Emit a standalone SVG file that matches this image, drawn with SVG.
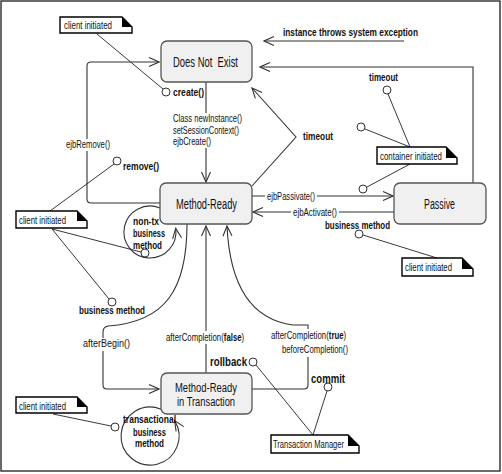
<svg xmlns="http://www.w3.org/2000/svg" width="502" height="474" viewBox="0 0 502 474">
<style>
.frame{fill:#fff;stroke:#3a3a3a;stroke-width:1.5}
.state{fill:#f0f0f0;stroke:#555;stroke-width:1.3}
.t{font-family:"Liberation Sans Narrow","Liberation Sans",Arial,sans-serif;fill:#111}
.st{font-size:14px}
.st2{font-size:12.5px}
.lbl{font-size:10.5px}
.b{font-weight:bold}
.big{font-size:13px}
.ln{fill:none;stroke:#333;stroke-width:1.1}
.an{fill:none;stroke:#222;stroke-width:0.9}
.arr{marker-end:url(#open)}
.note{fill:#fff;stroke:#000;stroke-width:1.4}
.ear{fill:#000}
.dot{fill:#fff;stroke:#333;stroke-width:1}
.bg{fill:#fff}
</style>
<defs>
<marker id="open" viewBox="-12 -6 13 12" refX="0" refY="0" markerWidth="13" markerHeight="12" markerUnits="userSpaceOnUse" orient="auto">
<path d="M-10,-4.5 L0,0 L-10,4.5" fill="none" stroke="#333" stroke-width="1.1"/>
</marker>
</defs>
<rect class="frame" x="1" y="1" width="499" height="470"/>

<g id="connectors">
<path class="ln arr" d="M206,82 V182"/>
<path class="ln arr" d="M160,203 H91 Q87,203 87,199 V66 Q87,62 91,62 H159"/>
<path class="ln arr" d="M404,41 H264"/>
<path class="ln arr" d="M473,183 V67 H260"/>
<path class="ln arr" d="M252,186 L296,137 L252,88"/>
<path class="ln arr" d="M252,196 H393"/>
<path class="ln arr" d="M394,212 H253"/>
<path class="ln arr" d="M160,208 A26,26 0 1 0 175.7,228.4"/>
<path class="ln arr" d="M187,224 C187,290 165,322 108,326 Q103,327 103,332 V385 Q103,389 107,389 H159"/>
<path class="ln arr" d="M206,373 V226"/>
<path class="ln arr" d="M252,389 H304 Q308,389 308,385 V325 H293 C255,320 230,290 227,226"/>
<path class="ln arr" d="M161,409.2 A29,29 0 1 0 174.6,420.6"/>

<path class="an" d="M97,34 L163,89"/>
<path class="an" d="M50,211 L114,164"/>
<path class="an" d="M52,229 L141,252"/>
<path class="an" d="M52,229 L109,299"/>
<path class="an" d="M53,414 L111,426"/>
<path class="an" d="M410,147 L388,94"/>
<path class="an" d="M410,147 L365,129"/>
<path class="an" d="M410,164 L367,187"/>
<path class="an" d="M437,258 L363,235"/>
<path class="an" d="M313,435 L256,365"/>
<path class="an" d="M313,435 L327,391"/>

<circle class="dot" cx="166" cy="92" r="4"/>
<circle class="dot" cx="117" cy="161" r="4"/>
<circle class="dot" cx="145" cy="253" r="4"/>
<circle class="dot" cx="112" cy="302" r="4"/>
<circle class="dot" cx="115" cy="427" r="4"/>
<circle class="dot" cx="387" cy="90" r="4"/>
<circle class="dot" cx="361" cy="127" r="4"/>
<circle class="dot" cx="363" cy="189" r="4"/>
<circle class="dot" cx="359" cy="234" r="4"/>
<circle class="dot" cx="253" cy="362" r="4"/>
<circle class="dot" cx="328" cy="387" r="4"/>

<rect class="bg" x="172" y="113" width="72" height="35"/>
<rect class="bg" x="64" y="139" width="48" height="12"/>
<rect class="bg" x="265" y="190" width="52" height="12"/>
<rect class="bg" x="291" y="206" width="48" height="12"/>
<rect class="bg" x="81" y="338" width="51" height="13"/>
<rect class="bg" x="164" y="331" width="84" height="13"/>
<rect class="bg" x="268" y="329" width="81" height="28"/>

<text class="t lbl b" x="173" y="96" textLength="31" lengthAdjust="spacingAndGlyphs">create()</text>
<text class="t lbl" x="173" y="122" textLength="69" lengthAdjust="spacingAndGlyphs">Class newInstance()</text>
<text class="t lbl" x="173" y="133.5" textLength="66" lengthAdjust="spacingAndGlyphs">setSessionContext()</text>
<text class="t lbl" x="173" y="145" textLength="38" lengthAdjust="spacingAndGlyphs">ejbCreate()</text>
<text class="t lbl" x="66" y="148" textLength="44" lengthAdjust="spacingAndGlyphs">ejbRemove()</text>
<text class="t lbl b" x="123" y="170" textLength="36" lengthAdjust="spacingAndGlyphs">remove()</text>
<text class="t b" x="283" y="36" textLength="135" lengthAdjust="spacingAndGlyphs" style="font-size:11px">instance throws system exception</text>
<text class="t lbl b" x="369" y="81" textLength="29" lengthAdjust="spacingAndGlyphs">timeout</text>
<text class="t lbl b" x="303" y="140" textLength="30" lengthAdjust="spacingAndGlyphs">timeout</text>
<text class="t lbl" x="267" y="199.5" textLength="48" lengthAdjust="spacingAndGlyphs">ejbPassivate()</text>
<text class="t lbl" x="293" y="215.5" textLength="44" lengthAdjust="spacingAndGlyphs">ejbActivate()</text>
<text class="t lbl b" x="325" y="229" textLength="65" lengthAdjust="spacingAndGlyphs">business method</text>
<text class="t lbl b" x="133" y="225" textLength="26" lengthAdjust="spacingAndGlyphs">non-tx</text>
<text class="t lbl b" x="133" y="236.5" textLength="32" lengthAdjust="spacingAndGlyphs">business</text>
<text class="t lbl b" x="133" y="248.5" textLength="29" lengthAdjust="spacingAndGlyphs">method</text>
<text class="t lbl b" x="79" y="314" textLength="66" lengthAdjust="spacingAndGlyphs">business method</text>
<text class="t lbl" x="83" y="347" textLength="47" lengthAdjust="spacingAndGlyphs">afterBegin()</text>
<text class="t lbl" transform="translate(166,340.5) scale(0.745,1)" x="0" y="0">afterCompletion(<tspan class="b">false</tspan>)</text>
<text class="t big b" x="210" y="366" textLength="37" lengthAdjust="spacingAndGlyphs">rollback</text>
<text class="t lbl" transform="translate(271,339) scale(0.745,1)" x="0" y="0">afterCompletion(<tspan class="b">true</tspan>)</text>
<text class="t lbl" x="282" y="353" textLength="66" lengthAdjust="spacingAndGlyphs">beforeCompletion()</text>
<text class="t big b" x="311" y="383" textLength="34" lengthAdjust="spacingAndGlyphs">commit</text>
<text class="t lbl b" x="123" y="423" textLength="53" lengthAdjust="spacingAndGlyphs">transactional</text>
<text class="t lbl b" x="133" y="435.5" textLength="33" lengthAdjust="spacingAndGlyphs">business</text>
<text class="t lbl b" x="135" y="446.5" textLength="29" lengthAdjust="spacingAndGlyphs">method</text>
</g>

<g id="node-does-not-exist">
<rect class="state" x="161" y="41" width="91" height="41" rx="6"/>
<text class="t st" x="173" y="67" xml:space="preserve" textLength="65" lengthAdjust="spacingAndGlyphs">Does Not  Exist</text>
</g>
<g id="node-method-ready">
<rect class="state" x="160" y="183" width="92" height="41" rx="6"/>
<text class="t st" x="176" y="209" textLength="61" lengthAdjust="spacingAndGlyphs">Method-Ready</text>
</g>
<g id="node-passive">
<rect class="state" x="394" y="183" width="92" height="41" rx="6"/>
<text class="t st" x="424" y="209" textLength="31" lengthAdjust="spacingAndGlyphs">Passive</text>
</g>
<g id="node-method-ready-tx">
<rect class="state" x="161" y="373" width="91" height="41" rx="6"/>
<text class="t st2" x="175" y="391.5" textLength="62" lengthAdjust="spacingAndGlyphs">Method-Ready</text>
<text class="t st2" x="177" y="405.6" textLength="58" lengthAdjust="spacingAndGlyphs">in Transaction</text>
</g>

<g id="note-client-top">
<path class="note" d="M60,17 H122 L132,27 V33 H60 Z"/>
<path class="ear" d="M122,17 V27 H132 Z"/>
<text class="t lbl" x="64" y="29" textLength="48" lengthAdjust="spacingAndGlyphs">client initiated</text>
</g>
<g id="note-client-mid">
<path class="note" d="M16,211 H77 L87,221 V228 H16 Z"/>
<path class="ear" d="M77,211 V221 H87 Z"/>
<text class="t lbl" x="19" y="224" textLength="47" lengthAdjust="spacingAndGlyphs">client initiated</text>
</g>
<g id="note-client-bottom">
<path class="note" d="M16,397 H77 L87,407 V413 H16 Z"/>
<path class="ear" d="M77,397 V407 H87 Z"/>
<text class="t lbl" x="19" y="410" textLength="47" lengthAdjust="spacingAndGlyphs">client initiated</text>
</g>
<g id="note-container">
<path class="note" d="M377,147 H446 L457,158 V164 H377 Z"/>
<path class="ear" d="M446,147 V158 H457 Z"/>
<text class="t lbl" x="380" y="160" textLength="62" lengthAdjust="spacingAndGlyphs">container initiated</text>
</g>
<g id="note-client-right">
<path class="note" d="M402,258 H462 L473,269 V276 H402 Z"/>
<path class="ear" d="M462,258 V269 H473 Z"/>
<text class="t lbl" x="405" y="271" textLength="47" lengthAdjust="spacingAndGlyphs">client initiated</text>
</g>
<g id="note-transaction-manager">
<path class="note" d="M271,435 H348 L359,446 V453 H271 Z"/>
<path class="ear" d="M348,435 V446 H359 Z"/>
<text class="t lbl" x="273" y="448" textLength="71" lengthAdjust="spacingAndGlyphs">Transaction Manager</text>
</g>
</svg>
